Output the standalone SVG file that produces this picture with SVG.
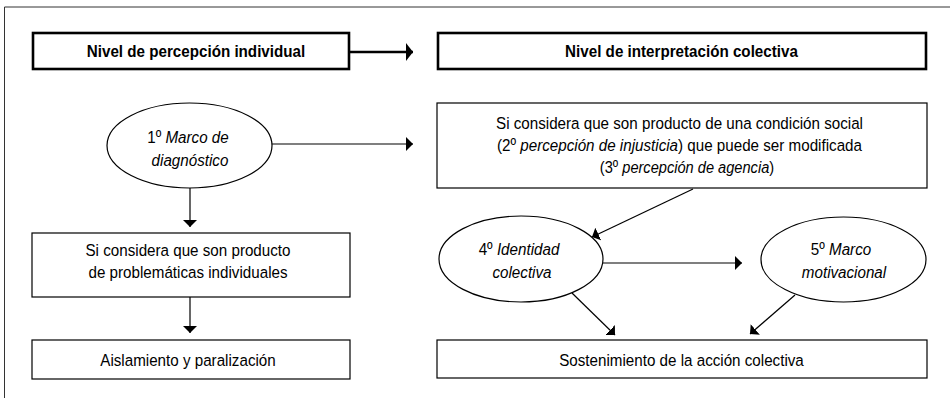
<svg xmlns="http://www.w3.org/2000/svg" width="950" height="398" viewBox="0 0 950 398">
<style>
text{font-family:"Liberation Sans",Arial,sans-serif;font-size:17px;fill:#000;text-anchor:middle}
.b{font-weight:bold}
.i{font-style:italic}
.box{fill:#fff;stroke:#000;stroke-width:1.2}
.hbox{fill:#fff;stroke:#000;stroke-width:2.6}
.ell{fill:#fff;stroke:#000;stroke-width:1.2}
.c{fill:none;stroke:#000;stroke-width:1.2;marker-end:url(#ah)}
.ct{fill:none;stroke:#000;stroke-width:2.6;marker-end:url(#ahb)}
.frame{fill:none;stroke:#333;stroke-width:1}
</style>
<defs>
<marker id="ah" markerUnits="userSpaceOnUse" markerWidth="8" markerHeight="16" refX="7" refY="7.5" orient="auto">
<path d="M0,0.5 L7,7.5 L0,14.5 Z" fill="#000"/>
</marker>
<marker id="ahb" markerUnits="userSpaceOnUse" markerWidth="8" markerHeight="20" refX="7" refY="9.5" orient="auto">
<path d="M0,0.5 L7,9.5 L0,18.5 Z" fill="#000"/>
</marker>
</defs>
<rect width="950" height="398" fill="#fff"/>
<path class="frame" d="M4.5,398 L4.5,7 L950,7"/>

<g id="connectors">
<line class="ct" x1="350" y1="52" x2="413" y2="52"/>
<line class="c" x1="272" y1="144" x2="413" y2="144"/>
<line class="c" x1="190" y1="188" x2="190" y2="227"/>
<line class="c" x1="190" y1="297" x2="190" y2="333"/>
<line class="c" x1="693" y1="189" x2="592" y2="237"/>
<line class="c" x1="603" y1="263" x2="742" y2="263"/>
<line class="c" x1="572" y1="293" x2="615" y2="335"/>
<line class="c" x1="795" y1="295" x2="750" y2="334"/>
</g>

<g id="nivel-individual">
<rect class="hbox" x="33" y="33" width="316" height="36"/>
<text class="b" transform="matrix(0.893 0 0 1 196 0)" x="0" y="57.5">Nivel de percepción individual</text>
</g>

<g id="nivel-colectivo">
<rect class="hbox" x="438" y="33" width="488" height="36"/>
<text class="b" transform="matrix(0.893 0 0 1 681.5 0)" x="0" y="57.5">Nivel de interpretación colectiva</text>
</g>

<g id="marco-diagnostico">
<ellipse class="ell" cx="189.5" cy="145.5" rx="82.5" ry="42.5"/>
<text transform="matrix(0.893 0 0 1 188 0)" x="0" y="143">1º <tspan class="i">Marco de</tspan></text>
<text class="i" transform="matrix(0.893 0 0 1 190 0)" x="0" y="166">diagnóstico</text>
</g>

<g id="condicion-social">
<rect class="box" x="437" y="103" width="490" height="85"/>
<text transform="matrix(0.893 0 0 1 679.5 0)" x="0" y="129">Si considera que son producto de una condición social</text>
<text transform="matrix(0.893 0 0 1 679.5 0)" x="0" y="151">(2º <tspan class="i">percepción de injusticia</tspan>) que puede ser modificada</text>
<text transform="matrix(0.86 0 0 1 687 0)" x="0" y="173">(3º <tspan class="i">percepción de agencia</tspan>)</text>
</g>

<g id="problematicas-individuales">
<rect class="box" x="32" y="233" width="318" height="64"/>
<text transform="matrix(0.893 0 0 1 188 0)" x="0" y="256">Si considera que son producto</text>
<text transform="matrix(0.893 0 0 1 188 0)" x="0" y="278">de problemáticas individuales</text>
</g>

<g id="aislamiento">
<rect class="box" x="32" y="340" width="318" height="39"/>
<text transform="matrix(0.893 0 0 1 188 0)" x="0" y="366">Aislamiento y paralización</text>
</g>

<g id="identidad-colectiva">
<ellipse class="ell" cx="521" cy="259" rx="82" ry="43"/>
<text transform="matrix(0.893 0 0 1 519 0)" x="0" y="255">4º <tspan class="i">Identidad</tspan></text>
<text class="i" transform="matrix(0.893 0 0 1 522 0)" x="0" y="278">colectiva</text>
</g>

<g id="marco-motivacional">
<ellipse class="ell" cx="843.5" cy="259.5" rx="82.5" ry="42.5"/>
<text transform="matrix(0.893 0 0 1 841 0)" x="0" y="255">5º <tspan class="i">Marco</tspan></text>
<text class="i" transform="matrix(0.893 0 0 1 844 0)" x="0" y="278">motivacional</text>
</g>

<g id="sostenimiento">
<rect class="box" x="437" y="340" width="490" height="38"/>
<text transform="matrix(0.893 0 0 1 681.5 0)" x="0" y="366">Sostenimiento de la acción colectiva</text>
</g>
</svg>
